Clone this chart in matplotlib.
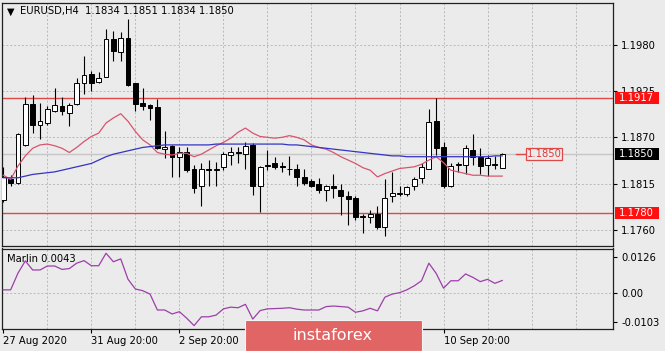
import matplotlib.pyplot as plt
from matplotlib.patches import Rectangle
from matplotlib.transforms import blended_transform_factory

# EURUSD H4, first visible bar = 27 Aug 2020 20:00
opens = [1.1796, 1.1820, 1.1816, 1.1861, 1.1910, 1.1885, 1.1887, 1.1901, 1.1907, 1.1899,
         1.1909, 1.1934, 1.1945, 1.1936, 1.1942, 1.1987, 1.1971, 1.1988, 1.1934, 1.1911,
         1.1908, 1.1906, 1.1856, 1.1860, 1.1847, 1.1853, 1.1832, 1.1812, 1.1833, 1.1831,
         1.1835, 1.1849, 1.1853, 1.1850, 1.1861, 1.1812, 1.1837, 1.1840, 1.1836, 1.1833,
         1.1833, 1.1823, 1.1818, 1.1815, 1.1807, 1.1812, 1.1808, 1.1800, 1.1798, 1.1777,
         1.1776, 1.1779, 1.1764, 1.1800, 1.1803, 1.1803, 1.1812, 1.1822, 1.1833, 1.1889,
         1.1859, 1.1812, 1.1837, 1.1837, 1.1855, 1.1847, 1.1837, 1.1838, 1.1834]
highs = [1.1835, 1.1825, 1.1875, 1.1918, 1.1920, 1.1911, 1.1907, 1.1929, 1.1918, 1.1911,
         1.1940, 1.1966, 1.1949, 1.1948, 1.1998, 1.1996, 1.1995, 1.2011, 1.1934, 1.1929,
         1.1910, 1.1915, 1.1878, 1.1861, 1.1859, 1.1859, 1.1837, 1.1839, 1.1843, 1.1841,
         1.1853, 1.1859, 1.1859, 1.1865, 1.1863, 1.1836, 1.1855, 1.1847, 1.1841, 1.1848,
         1.1838, 1.1832, 1.1820, 1.1822, 1.1814, 1.1827, 1.1815, 1.1806, 1.1800, 1.1779,
         1.1784, 1.1788, 1.1820, 1.1829, 1.1812, 1.1812, 1.1823, 1.1839, 1.1904, 1.1917,
         1.1864, 1.1839, 1.1841, 1.1861, 1.1874, 1.1857, 1.1849, 1.1848, 1.1851]
lows = [1.1793, 1.1812, 1.1815, 1.1860, 1.1875, 1.1868, 1.1885, 1.1900, 1.1897, 1.1884,
        1.1908, 1.1921, 1.1925, 1.1935, 1.1942, 1.1961, 1.1961, 1.1931, 1.1901, 1.1903,
        1.1891, 1.1856, 1.1845, 1.1823, 1.1823, 1.1829, 1.1804, 1.1789, 1.1812, 1.1812,
        1.1831, 1.1837, 1.1840, 1.1833, 1.1802, 1.1781, 1.1831, 1.1833, 1.1829, 1.1825,
        1.1812, 1.1814, 1.1811, 1.1804, 1.1795, 1.1798, 1.1778, 1.1766, 1.1772, 1.1757,
        1.1768, 1.1761, 1.1753, 1.1793, 1.1800, 1.1800, 1.1808, 1.1816, 1.1832, 1.1849,
        1.1810, 1.1811, 1.1829, 1.1827, 1.1837, 1.1827, 1.1824, 1.1832, 1.1834]
closes = [1.1823, 1.1816, 1.1874, 1.1910, 1.1885, 1.1889, 1.1904, 1.1908, 1.1901, 1.1908,
          1.1934, 1.1944, 1.1934, 1.1940, 1.1987, 1.1972, 1.1988, 1.1932, 1.1910, 1.1907,
          1.1905, 1.1857, 1.1859, 1.1847, 1.1853, 1.1831, 1.1810, 1.1833, 1.1831, 1.1833,
          1.1850, 1.1853, 1.1851, 1.1860, 1.1812, 1.1835, 1.1836, 1.1835, 1.1835, 1.1832,
          1.1823, 1.1816, 1.1812, 1.1807, 1.1812, 1.1810, 1.1800, 1.1797, 1.1776, 1.1776,
          1.1779, 1.1764, 1.1798, 1.1804, 1.1804, 1.1811, 1.1820, 1.1835, 1.1888, 1.1857,
          1.1812, 1.1836, 1.1838, 1.1857, 1.1847, 1.1836, 1.1846, 1.1837, 1.1850]

# moving averages
ma_fast = [1.1825, 1.1820, 1.1836, 1.1848, 1.1857, 1.1861, 1.1862, 1.1860, 1.1857, 1.1852,
           1.1858, 1.1865, 1.1871, 1.1875, 1.1887, 1.1893, 1.1898, 1.1889, 1.1877, 1.1867,
           1.1861, 1.1852, 1.1850, 1.1849, 1.1851, 1.1851, 1.1847, 1.1850, 1.1855, 1.1860,
           1.1864, 1.1869, 1.1876, 1.1881, 1.1875, 1.1871, 1.1870, 1.1869, 1.1870, 1.1872,
           1.1870, 1.1867, 1.1861, 1.1858, 1.1856, 1.1852, 1.1847, 1.1843, 1.1839, 1.1834,
           1.1831, 1.1823, 1.1827, 1.1830, 1.1833, 1.1834, 1.1835, 1.1838, 1.1843, 1.1847,
           1.1840, 1.1831, 1.1829, 1.1827, 1.1825, 1.1825, 1.1824, 1.1824, 1.1824]
ma_slow = [1.1822, 1.1822, 1.1822, 1.1824, 1.1826, 1.1827, 1.1828, 1.1829, 1.1831, 1.1833,
           1.1835, 1.1837, 1.1839, 1.1843, 1.1847, 1.1850, 1.1852, 1.1854, 1.1856, 1.1858,
           1.1859, 1.1860, 1.1861, 1.1861, 1.1861, 1.1861, 1.1861, 1.1861, 1.1861, 1.1862,
           1.1862, 1.1862, 1.1862, 1.1862, 1.1862, 1.1862, 1.1862, 1.1862, 1.1862, 1.1861,
           1.1861, 1.1860, 1.1859, 1.1858, 1.1857, 1.1856, 1.1855, 1.1854, 1.1853, 1.1852,
           1.1851, 1.1850, 1.1849, 1.1848, 1.1848, 1.1847, 1.1847, 1.1847, 1.1847, 1.1847,
           1.1847, 1.1847, 1.1847, 1.1847, 1.1847, 1.1847, 1.1847, 1.1848, 1.1848]

marlin = [0.0010, 0.0010, 0.0069, 0.0112, 0.0080, 0.0080, 0.0094, 0.0094, 0.0082, 0.0085,
          0.0104, 0.0113, 0.0095, 0.0095, 0.0139, 0.0109, 0.0119, 0.0047, 0.0013, 0.0007,
          -0.0005, -0.0061, -0.0061, -0.0075, -0.0067, -0.0090, -0.0116, -0.0085, -0.0085, -0.0079,
          -0.0057, -0.0051, -0.0053, -0.0041, -0.0093, -0.0063, -0.0057, -0.0056, -0.0055, -0.0053,
          -0.0058, -0.0061, -0.0061, -0.0061, -0.0049, -0.0047, -0.0049, -0.0051, -0.0069, -0.0064,
          -0.0055, -0.0064, -0.0016, -0.0005, 0.0000, 0.0010, 0.0024, 0.0042, 0.0104, 0.0068,
          0.0016, 0.0042, 0.0042, 0.0066, 0.0054, 0.0039, 0.0047, 0.0033, 0.0043]

price_ticks = [1.1760, 1.1815, 1.1870, 1.1925, 1.1980]
resistance = 1.1917
support = 1.1780
last_price = 1.1850
marlin_ticks = [-0.0103, 0.0, 0.0126]
marlin_labels = ["-0.0103", "0.00", "0.0126"]
time_pos = [0, 12, 24, 60]
time_labels = ["27 Aug 2020", "31 Aug 20:00", "2 Sep 20:00", "10 Sep 20:00"]

BG = "#ebebeb"
GRID = "#b9b9b9"
W, H = 665, 351
idx = list(range(len(closes)))


def rect(x0, y0, x1, y1):
    # pixel box (top-left origin) -> figure fraction
    return [x0 / W, 1 - y1 / H, (x1 - x0) / W, (y1 - y0) / H]


plt.rcParams['font.family'] = 'DejaVu Sans'
fig = plt.figure(figsize=(6.65, 3.51), dpi=100, facecolor=BG)
ax = fig.add_axes(rect(2, 2.5, 613, 245.7))
axm = fig.add_axes(rect(2, 248.5, 613, 329.3))

for a in (ax, axm):
    a.set_facecolor(BG)
    a.set_xlim(-0.18, 83.1)
    for s in a.spines.values():
        s.set_color("#202020")
        s.set_linewidth(0.9)
    for k in range(6, 84, 6):
        a.axvline(k, color=GRID, lw=0.7, ls=(0, (2, 2)), zorder=0)
    a.yaxis.tick_right()
    a.tick_params(axis='y', direction='out', length=3, width=0.8, pad=3, labelsize=7.2)

# main price window
ax.set_ylim(1.17414, 1.2030)
ax.set_yticks(price_ticks)
ax.set_yticklabels([f"{p:.4f}" for p in price_ticks])
ax.tick_params(axis='x', length=0, labelbottom=False)
for p in price_ticks:
    ax.axhline(p, color=GRID, lw=0.7, ls=(0, (2, 2)), zorder=0)
ax.axhline(last_price, color="#c6c6c6", lw=1.0, zorder=0.5)
ax.axhline(resistance, color="#e04848", lw=1.0, zorder=1)
ax.axhline(support, color="#e04848", lw=1.0, zorder=1)

ax.vlines(idx, lows, highs, color="black", lw=0.8, zorder=3)
body_lo = [min(o, c) for o, c in zip(opens, closes)]
body_h = [abs(c - o) for o, c in zip(opens, closes)]
body_c = ["white" if c >= o else "black" for o, c in zip(opens, closes)]
ax.bar(idx, body_h, bottom=body_lo, width=0.66, color=body_c,
       edgecolor="black", linewidth=0.7, zorder=4)

ax.plot(idx, ma_fast, color="#d9546e", lw=0.9, zorder=5)
ax.plot(idx, ma_slow, color="#3434c4", lw=0.9, zorder=5)

# price label object on the chart
ax.plot([69.9, 71.3], [last_price, last_price], color="#e04848", lw=1.0, zorder=5)
ax.add_patch(Rectangle((71.3, last_price - 0.00072), 4.9, 0.00144, facecolor=BG,
                       edgecolor="#e04848", lw=0.9, zorder=6))
ax.text(73.75, last_price, f"{last_price:.4f}", color="#e03838", fontsize=7.2,
        ha="center", va="center", zorder=7)

# coloured price boxes on the right scale
bt = blended_transform_factory(ax.transAxes, ax.transData)
for val, fc in [(resistance, "#ff1010"), (last_price, "black"), (support, "#ff1010")]:
    ax.add_patch(Rectangle((1.0033, val - 0.00072), 0.072, 0.00144, transform=bt,
                           facecolor=fc, edgecolor="none", clip_on=False, zorder=10))
    ax.text(1.0098, val, f"{val:.4f}", transform=bt, color="white", fontsize=7.2,
            ha="left", va="center", clip_on=False, zorder=11)

ax.text(0.0145, 0.962, "\u25bc", transform=ax.transAxes, fontsize=7,
        ha="center", va="center", color="black")
ax.text(0.0295, 0.963, "EURUSD,H4  1.1834 1.1851 1.1834 1.1850", transform=ax.transAxes,
        fontsize=7.2, ha="left", va="center", color="black")

# Marlin indicator window
axm.set_ylim(-0.0129, 0.01557)
axm.axhline(0, color=GRID, lw=0.7, ls=(0, (2, 2)), zorder=0)
axm.plot(idx, marlin, color="#9c3fa8", lw=0.9, zorder=3)
axm.set_yticks(marlin_ticks)
axm.set_yticklabels(marlin_labels)
axm.set_xticks(time_pos)
axm.set_xticklabels(time_labels, ha="left", fontsize=7.2)
axm.tick_params(axis='x', direction='out', length=3, width=0.8, pad=2)
axm.text(0.008, 0.93, f"Marlin {marlin[-1]:.4f}", transform=axm.transAxes,
         fontsize=7.2, ha="left", va="top")

# instaforex watermark
fig.patches.append(Rectangle((245 / W, 0), (422 - 245) / W, (351 - 320) / H,
                             transform=fig.transFigure, facecolor="#e26565",
                             edgecolor="#f4f4f4", lw=0.8, zorder=20))
fig.text(332 / W, 1 - 336 / H, "instaforex", color="white", fontsize=11.5,
         ha="center", va="center", zorder=21)

fig.savefig("out.png", dpi=100, facecolor=BG)
